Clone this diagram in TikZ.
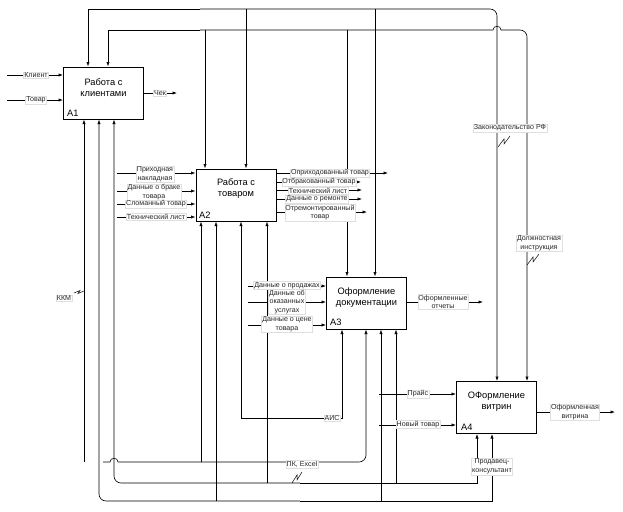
\documentclass[tikz,border=0pt]{standalone}
\usepackage{fontspec}
\setmainfont{Liberation Sans}
\usetikzlibrary{arrows.meta}
\begin{document}
\begin{tikzpicture}[x=1pt,y=-1pt,
 box/.style={draw,line width=1pt,minimum width=80pt,minimum height=52pt,inner sep=0pt},
 ttl/.style={font=\fontsize{9.3}{11}\selectfont,align=center,inner sep=0pt},
 num/.style={font=\fontsize{9.3}{11}\selectfont,anchor=south west,inner sep=0pt},
 lbl/.style={fill=white,draw=gray!25,line width=0.3pt,inner sep=0.7pt,align=center,text=black!85,font=\fontsize{7.1}{8.6}\selectfont},
 ln/.style={line width=0.6pt},
 arr/.style={ln,-{Latex[length=4.5pt,width=3.2pt]}},
 sq/.style={line width=0.5pt}]
\useasboundingbox (0,0) rectangle (623,511);
\fill[white] (0,0) rectangle (623,511);

% boxes
\node[box] (A1) at (103.5,93) {};
\node[box] (A2) at (236,195) {};
\node[box] (A3) at (366.5,303) {};
\node[box] (A4) at (496.5,407.5) {};
\node[ttl] (A1t) at (103.5,88) {Работа с\\клиентами};
\node[ttl] (A2t) at (236,189) {Работа с\\товаром};
\node[ttl] (A3t) at (366.5,297.5) {Оформление\\документации};
\node[ttl] (A4t) at (496.5,402) {ОФормление\\витрин};
\node[num] (A1n) at (67,117) {A1};
\node[num] (A2n) at (199,219) {A2};
\node[num] (A3n) at (330,326) {A3};
\node[num] (A4n) at (461,431) {A4};

% A1 inputs / output
\draw[arr] (7,75) -- (7,75 -| A1.west);
\draw[arr] (7,100) -- (7,100 -| A1.west);
\draw[arr] (A1.east |- 0,93) -- (177,93);

% controls: Законодательство РФ
\draw[arr] (200,9) -| (88,9 |- A1.north);
\draw[arr,rounded corners=7pt] (200,9) -| (497,9 |- A4.north);
\draw[arr] (246,9) -- (246,9 |- A2.north);
\draw[arr] (375,9) -- (375,9 |- A3.north);

% controls: Должностная инструкция
\draw[arr] (200,30) -| (108,30 |- A1.north);
\draw[ln] (200,30) -- (493,30) .. controls (493,25) and (501,25) .. (501,30);
\draw[arr,rounded corners=7pt] (501,30) -| (527,30 |- A4.north);
\draw[arr] (205,30) -- (205,30 |- A2.north);
\draw[arr] (347,30) -- (347,30 |- A3.north);

% A2 inputs
\foreach \yy in {173,191,204,217} \draw[arr] (117,\yy) -- (117,\yy -| A2.west);
% A2 outputs
\draw[arr] (A2.east |- 0,173) -- (388,173);
\draw[arr] (A2.east |- 0,182) -- (361,182);
\draw[arr] (A2.east |- 0,190) -- (362,190);
\draw[arr] (A2.east |- 0,199) -- (362,199);
\draw[arr] (A2.east |- 0,212) -- (367,212);

% A2 mechanisms
\draw[arr] (201,462) -- (201,462 |- A2.south);
\draw[arr] (216,501) -- (216,501 |- A2.south);
\draw[arr] (267,483) -- (267,483 |- A2.south);
\draw[arr] (290,418) -| (241,418 |- A2.south);
\draw[arr] (290,418) -| (342,418 |- A3.south);

% A3 inputs / output
\foreach \yy in {286,302,325} \draw[arr] (248,\yy) -- (248,\yy -| A3.west);
\draw[arr] (A3.east |- 0,302) -- (483,302);

% A3 mechanisms
\draw[ln] (103,462) -- (110,462) .. controls (110,457) and (118,457) .. (118,462);
\draw[arr,rounded corners=7pt] (118,462) -| (366,462 |- A3.south);
\draw[arr] (381,501) -- (381,501 |- A3.south);
\draw[arr] (396,483) -- (396,483 |- A3.south);

% A4 inputs / output
\draw[arr] (379,394) -- (379,394 -| A4.west);
\draw[arr] (379,425) -- (379,425 -| A4.west);
\draw[arr] (A4.east |- 0,412) -- (615,412);

% shared mechanisms
\draw[arr,rounded corners=7pt] (300,483) -| (114,483 |- A1.south);
\draw[arr] (300,483) -| (477,483 |- A4.south);
\draw[arr,rounded corners=7pt] (300,501) -| (99,501 |- A1.south);
\draw[arr] (300,501) -| (492,501 |- A4.south);
\draw[arr] (84,462) -- (84,462 |- A1.south);

% squiggles
\draw[sq] (498,147) -- (504,139) -- (504,144) -- (510,136);
\draw[sq] (527,265) -- (533,257) -- (533,262) -- (539,254);
\draw[sq] (292,483) -- (297,475) -- (297,480) -- (302,472);
\draw[sq] (74,293) -- (80,290.5) -- (78,293.5) -- (84,291);

% labels
\node[lbl] (l1) at (36,75) {Клиент};
\node[lbl] (l2) at (36,100) {Товар};
\node[lbl] (l3) at (160,93) {Чек};
\node[lbl] (l4) at (155,174) {Приходная\\накладная};
\node[lbl] (l5) at (154,192) {Данные о браке\\товара};
\node[lbl] (l6) at (156,204) {Сломанный товар};
\node[lbl] (l7) at (156,216.5) {Технический лист};
\node[lbl] (l8) at (330,173) {Оприходованный товар};
\node[lbl] (l9) at (319,182) {Отбракованный товар};
\node[lbl] (l10) at (318,190.5) {Технический лист};
\node[lbl] (l11) at (317,199) {Данные о ремонте};
\node[lbl] (l12) at (320,212.5) {Отремонтированный\\товар};
\node[lbl] (l13) at (287,285.5) {Данные о продажах};
\node[lbl] (l14) at (287,302) {Данные об\\оказанных\\услугах};
\node[lbl] (l15) at (287,324) {Данные о цене\\товара};
\node[lbl] (l16) at (443,302) {Оформленные\\отчеты};
\node[lbl] (l17) at (418,394) {Прайс};
\node[lbl] (l18) at (418,424.5) {Новый товар};
\node[lbl] (l19) at (575,412) {Оформленная\\витрина};
\node[lbl] (l20) at (510,128) {Законодательство РФ};
\node[lbl] (l21) at (539,243) {Должностная\\инструкция};
\node[lbl] (l22) at (332,418) {АИС};
\node[lbl] (l23) at (302,464) {ПК, Excel};
\node[lbl] (l24) at (492,466.5) {Продавец-\\консультант};
\node[lbl] (l25) at (64,298) {ККМ};
\end{tikzpicture}
\end{document}
